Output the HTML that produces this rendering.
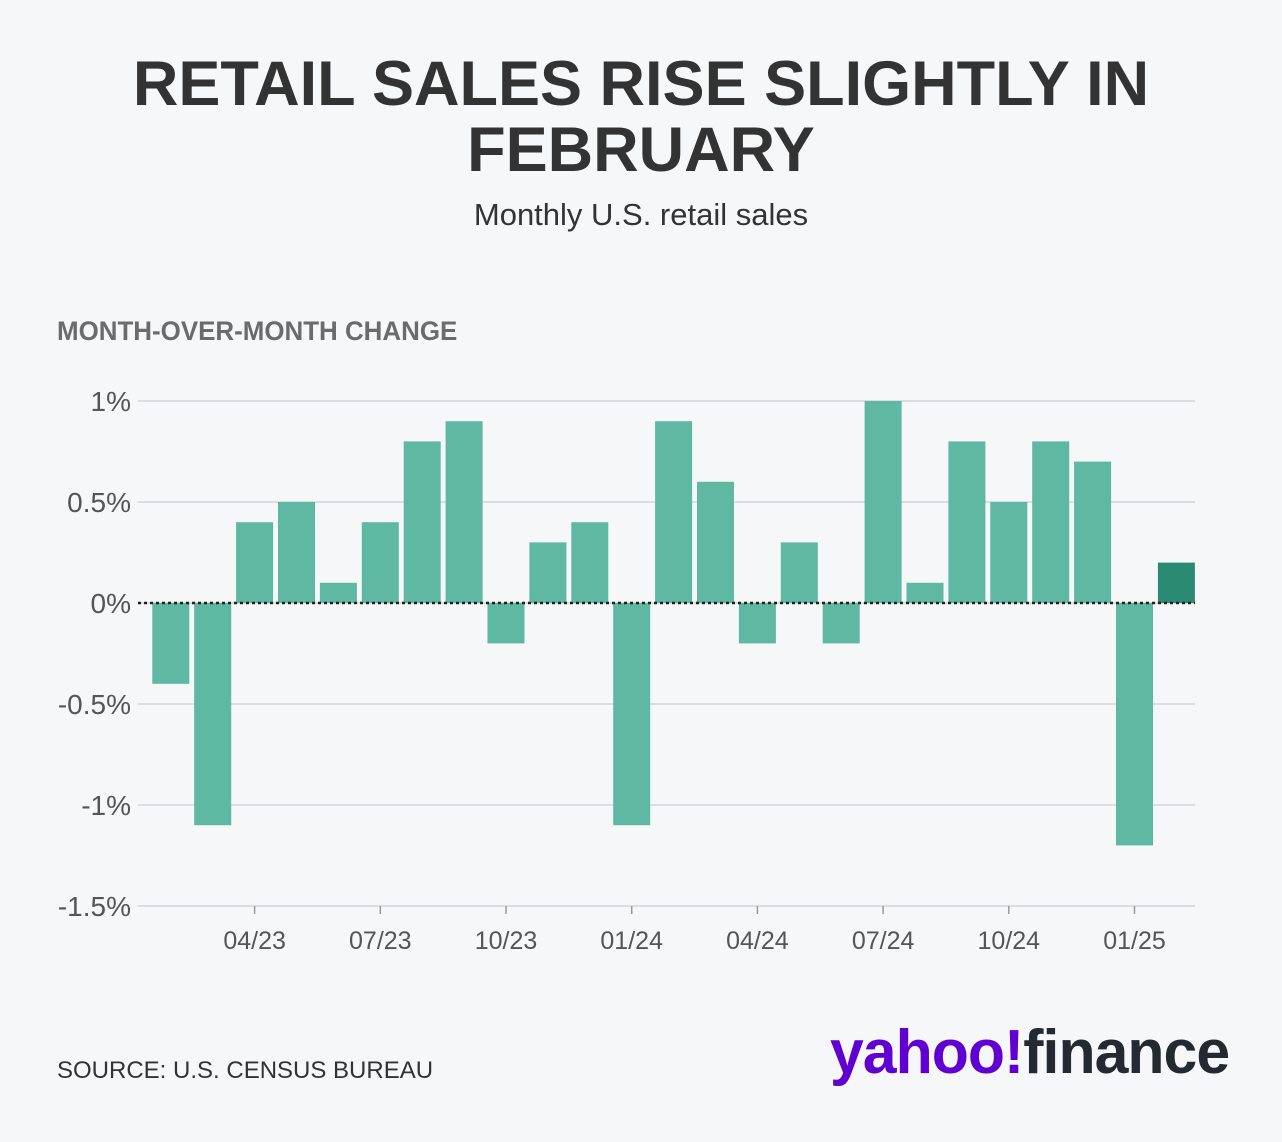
<!DOCTYPE html>
<html><head><meta charset="utf-8"><style>
html,body{margin:0;padding:0;background:#f6f7f9;}
body{width:1282px;height:1142px;position:relative;overflow:hidden;font-family:"Liberation Sans",sans-serif;}
.t{position:absolute;left:0;width:1282px;text-align:center;color:#333;}
</style></head><body>
<div class="t" style="top:51px;font-size:63px;font-weight:bold;line-height:66px;">RETAIL SALES RISE SLIGHTLY IN<br>FEBRUARY</div>
<div class="t" style="top:197px;font-size:31px;">Monthly U.S. retail sales</div>
<div style="position:absolute;left:57px;top:316px;font-size:27px;font-weight:bold;color:#6b6b6b;transform:scaleX(0.96);transform-origin:left;">MONTH-OVER-MONTH CHANGE</div>
<svg id="chart" width="1282" height="1142" style="position:absolute;left:0;top:0;"></svg>
<div style="position:absolute;left:57px;top:1057px;font-size:24px;color:#333;">SOURCE: U.S. CENSUS BUREAU</div>
<div style="position:absolute;left:830px;top:1017px;font-size:62px;font-weight:bold;letter-spacing:-1px;transform:scaleX(0.98);transform-origin:left;"><span style="color:#6001d2;">yahoo!</span><span style="color:#232a31;">finance</span></div>
<script>
const categories=["02/23","03/23","04/23","05/23","06/23","07/23","08/23","09/23","10/23","11/23","12/23","01/24","02/24","03/24","04/24","05/24","06/24","07/24","08/24","09/24","10/24","11/24","12/24","01/25","02/25"];
const values=[-0.4,-1.1,0.4,0.5,0.1,0.4,0.8,0.9,-0.2,0.3,0.4,-1.1,0.9,0.6,-0.2,0.3,-0.2,1.0,0.1,0.8,0.5,0.8,0.7,-1.2,0.2];
const yTicks=[1,0.5,0,-0.5,-1,-1.5];
const yTickLabels=["1%","0.5%","0%","-0.5%","-1%","-1.5%"];
const xTickCats=["04/23","07/23","10/23","01/24","04/24","07/24","10/24","01/25"];
const NS="http://www.w3.org/2000/svg";
const svg=document.getElementById('chart');
const y=v=>603-v*202;
const x=i=>170.8+i*41.9;
function mk(t,a){const e=document.createElementNS(NS,t);for(const k in a)e.setAttribute(k,a[k]);svg.appendChild(e);return e;}
yTicks.forEach((v,i)=>{
 const g=mk('line',{x1:138,x2:1195,y1:y(v),y2:y(v),stroke:'#dcdde0','stroke-width':2});
 
 
 const t=mk('text',{x:131,y:y(v)+10,'text-anchor':'end','font-size':28,fill:'#555','font-family':'Liberation Sans, sans-serif'});
 t.textContent=yTickLabels[i];
 
 
});
values.forEach((v,i)=>{
 const r=mk('rect',{x:x(i)-18.5,width:37,y:Math.min(y(v),y(0)),height:Math.abs(y(v)-y(0)),fill:i===values.length-1?'#2b8a72':'#5fb8a1'});
 
 
});
const z=mk('line',{x1:138,x2:1195,y1:y(0),y2:y(0),stroke:'#222','stroke-width':2.5,'stroke-dasharray':'3,3'});


xTickCats.forEach(c=>{
 const i=categories.indexOf(c);
 const tk=mk('line',{x1:x(i),x2:x(i),y1:y(-1.5),y2:y(-1.5)+8,stroke:'#999','stroke-width':1.5});
 
 
 const t=mk('text',{x:x(i),y:949,'text-anchor':'middle','font-size':25,fill:'#555','font-family':'Liberation Sans, sans-serif'});
 t.textContent=c;
 
 
});
</script>
</body></html>
